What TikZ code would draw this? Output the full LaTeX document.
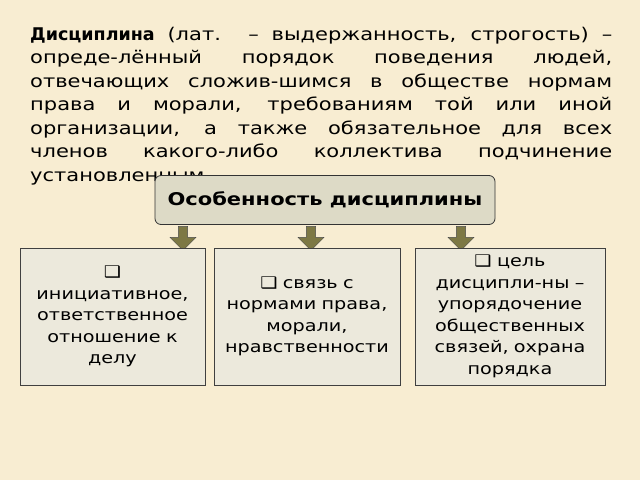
\documentclass[tikz,border=0pt]{standalone}
\usepackage{fontspec}
\setmainfont{DejaVu Sans}
\newfontfamily\widefont[FakeStretch=1.2]{DejaVu Sans}
\usetikzlibrary{shapes.arrows}
\definecolor{bgbeige}{HTML}{F8EDD2}
\definecolor{boxfill}{HTML}{ECE9DC}
\definecolor{titlefill}{HTML}{DDDAC6}
\definecolor{olivearrow}{HTML}{7D7844}
\begin{document}
\begin{tikzpicture}[x=1pt,y=-1pt,
  featbox/.style={draw=black!75, thick, fill=boxfill, minimum height=137pt, align=center, font=\widefont\fontsize{16}{21.5}\selectfont, inner sep=2pt},
  downarrow/.style={single arrow, draw=black!70, fill=olivearrow, shape border rotate=270, minimum height=24pt, minimum width=26pt, single arrow head extend=4pt, inner sep=2pt}]
    %Background
    \fill[bgbeige] (0,0) rectangle (640,480);
    \useasboundingbox (0,0) rectangle (640,480);
    %Definition
    \node[anchor=north west, text width=582pt, align=justify, inner sep=0pt, font=\widefont\fontsize{17.5}{23.5}\selectfont] (defn) at (30,27)
      {{\normalfont\bfseries\fontsize{17.5}{23.5}\selectfont Дисциплина} (лат. – выдержанность, строгость)~– опреде-лённый порядок поведения людей, отвечающих сложив-шимся в обществе нормам права и морали, требованиям той или иной организации, а также обязательное для всех членов какого-либо коллектива подчинение установленным};
    %Title
    \node[draw=black!80, thick, rounded corners=6pt, fill=titlefill, minimum width=340pt, minimum height=49pt, font=\widefont\bfseries\fontsize{17.5}{20}\selectfont] (title) at (325,200) {Особенность дисциплины};
    %Arrows
    \node[downarrow] (a1) at (183,236) {};
    \node[downarrow] (a2) at (311,236) {};
    \node[downarrow] (a3) at (461,236) {};
    %Boxes
    \node[featbox, minimum width=185pt, text width=180pt] (f1) at (112.5,316.5) {❑\\инициативное,\\ответственное\\отношение к\\делу};
    \node[featbox, minimum width=186pt, text width=182pt] (f2) at (307,316.5) {❑ связь с\\нормами права,\\морали,\\нравственности};
    \node[featbox, minimum width=190pt, text width=186pt] (f3) at (510,316.5) {❑ цель\\дисципли-ны –\\упорядочение\\общественных\\связей, охрана\\порядка};
\end{tikzpicture}
\end{document}
